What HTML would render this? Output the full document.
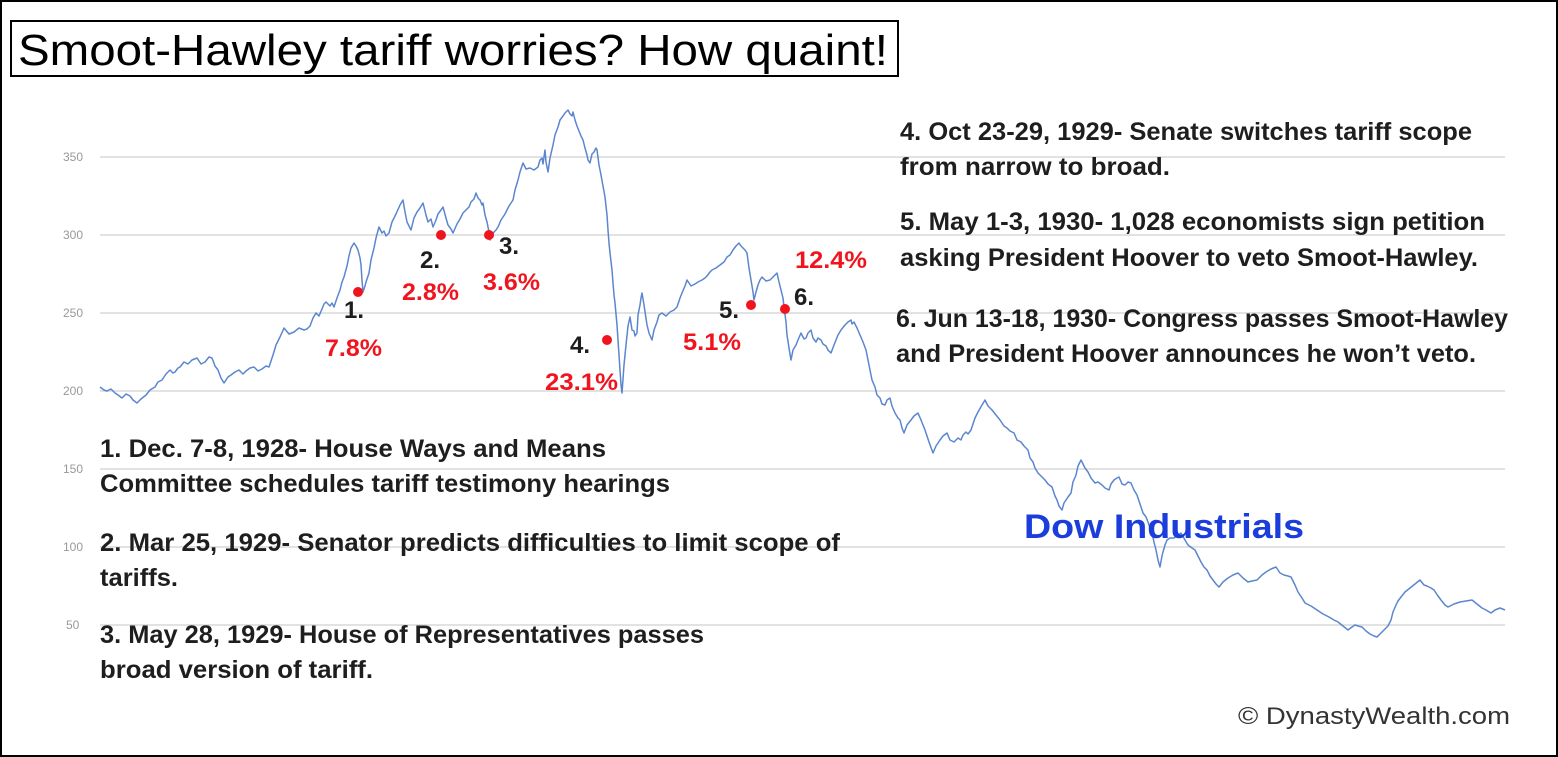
<!DOCTYPE html>
<html><head><meta charset="utf-8"><style>
html,body{margin:0;padding:0;background:#fff}
svg{display:block}
.a{font-family:"Liberation Sans",sans-serif;font-weight:bold;font-size:25px;fill:#1e1e1e}
.r{font-family:"Liberation Sans",sans-serif;font-weight:bold;font-size:24px;fill:#f0141e}
.k{font-family:"Liberation Sans",sans-serif;font-weight:bold;font-size:24px;fill:#1e1e1e}
.y{font-family:"Liberation Sans",sans-serif;font-size:12px;fill:#999}
</style></head><body>
<svg width="1558" height="757" viewBox="0 0 1558 757" xmlns="http://www.w3.org/2000/svg">
<rect x="1" y="1" width="1556" height="755" fill="#fff" stroke="#000" stroke-width="2"/>
<g stroke="#e2e2e2" stroke-width="2">
<line x1="100" y1="157" x2="1505" y2="157"/><line x1="100" y1="235" x2="1505" y2="235"/>
<line x1="100" y1="313" x2="1505" y2="313"/><line x1="100" y1="391" x2="1505" y2="391"/>
<line x1="100" y1="469" x2="1505" y2="469"/><line x1="100" y1="547" x2="1505" y2="547"/>
<line x1="100" y1="625" x2="1505" y2="625"/>
</g>
<g class="y"><text x="63" y="161">350</text><text x="63" y="239">300</text><text x="63" y="317">250</text><text x="63" y="395">200</text><text x="63" y="473">150</text><text x="63" y="551">100</text><text x="66" y="629">50</text></g>
<rect x="11" y="21" width="887" height="55" fill="#fff" stroke="#000" stroke-width="2"/>
<text x="18" y="65" font-family="Liberation Sans,sans-serif" font-size="44" textLength="870" lengthAdjust="spacingAndGlyphs" fill="#000">Smoot-Hawley tariff worries? How quaint!</text>
<polyline fill="none" stroke="#5b86cf" stroke-width="1.5" stroke-linejoin="round" points="100,387 104,390 107,391 111,389 115,393 118,395 122,398 126,394 130,396 133,400 137,403 141,399 146,395 150,390 155,387 158,382 162,380 166,374 170,370 173,373 175,372 178,368 180,367 184,362 188,364 192,360 197,358 201,364 205,362 209,357 212,358 215,366 218,370 221,378 224,383 228,377 231,375 235,372 239,370 243,374 246,371 250,368 254,367 258,371 262,369 266,366 269,367 273,355 276,345 280,337 284,328 289,334 294,332 299,328 304,330 307,329 310,326 313,318 316,313 319,316 322,309 324,304 326,302 330,306 332,303 334,307 337,298 340,290 342,282 344,277 347,266 349,256 351,248 354,243 356,246 358,250 360,258 361,265 362,280 363,292 365,286 366,282 368,276 369,273 371,260 374,248 376,238 379,227 382,233 384,231 386,236 389,233 392,222 396,214 400,205 403,200 405,212 407,222 409,226 411,230 414,218 417,212 420,208 423,203 426,215 428,222 431,219 433,227 436,220 438,214 441,210 443,207 446,218 448,225 451,229 453,233 457,224 460,219 463,213 466,210 469,207 471,202 474,199 476,193 478,198 480,200 482,205 483,203 485,215 487,222 489,232 490,240 492,236 494,232 496,230 498,227 501,220 505,214 509,206 513,200 515,190 518,180 520,172 523,163 526,169 530,168 534,170 538,167 540,160 542,158 543,164 545,150 546,162 548,172 550,158 553,145 555,135 558,127 560,120 563,116 565,113 568,110 570,114 572,116 573,112 575,120 577,126 579,131 581,136 583,140 585,148 587,155 588,160 590,163 592,154 594,152 596,148 597,150 599,165 601,175 603,186 605,197 607,215 608,230 609,243 610,253 612,270 613,283 614,295 615,303 617,325 618,340 619,355 620,370 621,385 622,393 624,365 626,345 628,326 630,317 632,330 634,331 635,336 637,333 638,315 640,305 641,298 642,293 644,305 647,325 649,333 652,340 654,330 657,322 659,315 662,313 666,316 670,312 674,310 677,307 680,298 682,293 685,286 687,280 691,286 695,284 698,282 702,280 705,278 707,276 710,272 712,270 716,268 720,265 724,262 727,257 730,255 733,250 736,246 739,243 741,246 743,248 745,250 747,253 749,268 751,280 753,292 754,300 756,292 758,285 760,280 762,277 766,281 770,280 774,276 777,273 779,282 781,290 783,298 784,307 786,322 787,335 789,348 791,360 793,350 796,345 798,340 801,333 804,339 806,338 808,333 811,330 813,338 816,342 818,338 821,340 823,344 826,346 828,350 831,353 834,345 838,335 841,330 845,325 848,322 851,320 852,324 854,322 857,328 860,335 863,342 866,350 868,360 870,370 872,380 875,387 877,395 880,398 882,404 885,405 887,400 890,398 892,406 895,413 898,418 900,420 902,428 904,433 907,425 911,420 914,416 918,413 921,420 925,430 929,442 933,453 936,446 940,440 943,436 947,433 950,440 954,442 958,438 961,440 963,435 966,432 968,434 971,430 975,418 978,412 982,405 985,400 988,406 992,410 996,415 1000,420 1004,426 1007,428 1010,431 1014,433 1017,440 1021,442 1024,446 1028,450 1030,458 1033,462 1035,468 1038,473 1041,476 1045,480 1048,484 1052,487 1055,496 1057,500 1059,506 1062,510 1064,503 1066,500 1068,497 1071,493 1073,482 1076,475 1078,466 1081,460 1085,468 1088,472 1091,478 1095,483 1098,482 1102,485 1105,488 1109,490 1111,484 1114,480 1117,478 1119,477 1122,484 1125,485 1128,482 1131,483 1134,490 1137,495 1140,504 1143,513 1146,517 1148,522 1150,528 1152,533 1154,542 1156,550 1158,560 1160,567 1162,556 1163,552 1165,545 1167,540 1170,538 1174,538 1178,535 1181,533 1185,540 1188,545 1192,548 1195,550 1198,556 1201,562 1204,567 1207,570 1210,576 1213,580 1216,584 1219,587 1223,582 1228,578 1233,575 1238,573 1243,578 1248,582 1252,581 1257,580 1262,575 1266,572 1271,569 1276,567 1280,573 1284,575 1288,576 1291,577 1295,585 1298,592 1302,598 1305,603 1311,606 1317,610 1323,614 1329,617 1334,620 1338,622 1343,626 1348,630 1352,627 1355,625 1358,626 1362,627 1366,631 1370,634 1374,636 1377,637 1381,633 1384,630 1388,626 1391,620 1393,612 1396,605 1398,601 1401,597 1405,592 1410,588 1415,584 1420,580 1424,585 1427,586 1431,588 1434,590 1438,596 1441,600 1445,605 1448,607 1454,604 1460,602 1466,601 1472,600 1477,604 1482,608 1486,610 1491,613 1495,610 1500,608 1505,610"/>
<g fill="#f0141e"><circle cx="358" cy="292" r="5"/><circle cx="441" cy="235" r="5"/><circle cx="489" cy="235" r="5"/><circle cx="607" cy="340" r="5"/><circle cx="751" cy="305" r="5"/><circle cx="785" cy="309" r="5"/></g>
<text class="k" x="344" y="318">1.</text>
<text class="r" x="325" y="356" textLength="57" lengthAdjust="spacingAndGlyphs">7.8%</text>
<text class="k" x="420" y="268">2.</text>
<text class="r" x="402" y="300" textLength="57" lengthAdjust="spacingAndGlyphs">2.8%</text>
<text class="k" x="499" y="254">3.</text>
<text class="r" x="483" y="290" textLength="57" lengthAdjust="spacingAndGlyphs">3.6%</text>
<text class="k" x="570" y="353">4.</text>
<text class="r" x="545" y="390" textLength="73" lengthAdjust="spacingAndGlyphs">23.1%</text>
<text class="k" x="719" y="318">5.</text>
<text class="r" x="683" y="350" textLength="58" lengthAdjust="spacingAndGlyphs">5.1%</text>
<text class="k" x="794" y="305">6.</text>
<text class="r" x="795" y="268" textLength="72" lengthAdjust="spacingAndGlyphs">12.4%</text>
<g class="a">
<text x="900" y="140" textLength="572" lengthAdjust="spacingAndGlyphs">4. Oct 23-29, 1929- Senate switches tariff scope</text>
<text x="900" y="175" textLength="270" lengthAdjust="spacingAndGlyphs">from narrow to broad.</text>
<text x="900" y="230" textLength="585" lengthAdjust="spacingAndGlyphs">5. May 1-3, 1930- 1,028 economists sign petition</text>
<text x="900" y="266" textLength="578" lengthAdjust="spacingAndGlyphs">asking President Hoover to veto Smoot-Hawley.</text>
<text x="896" y="327" textLength="612" lengthAdjust="spacingAndGlyphs">6. Jun 13-18, 1930- Congress passes Smoot-Hawley</text>
<text x="896" y="362" textLength="580" lengthAdjust="spacingAndGlyphs">and President Hoover announces he won’t  veto.</text>
<text x="100" y="457" textLength="506" lengthAdjust="spacingAndGlyphs">1. Dec. 7-8, 1928- House Ways and Means</text>
<text x="100" y="492" textLength="570" lengthAdjust="spacingAndGlyphs">Committee schedules tariff testimony hearings</text>
<text x="100" y="551" textLength="740" lengthAdjust="spacingAndGlyphs">2. Mar 25, 1929- Senator predicts difficulties to limit scope of</text>
<text x="100" y="586" textLength="78" lengthAdjust="spacingAndGlyphs">tariffs.</text>
<text x="100" y="643" textLength="604" lengthAdjust="spacingAndGlyphs">3. May 28, 1929- House of Representatives passes</text>
<text x="100" y="678" textLength="273" lengthAdjust="spacingAndGlyphs">broad version of tariff.</text>
</g>
<text x="1024" y="538" font-family="Liberation Sans,sans-serif" font-weight="bold" font-size="34" fill="#1a3ddb" textLength="280" lengthAdjust="spacingAndGlyphs">Dow Industrials</text>
<text x="1238" y="724" font-family="Liberation Sans,sans-serif" font-size="24" fill="#333" textLength="272" lengthAdjust="spacingAndGlyphs">© DynastyWealth.com</text>
</svg>
</body></html>
